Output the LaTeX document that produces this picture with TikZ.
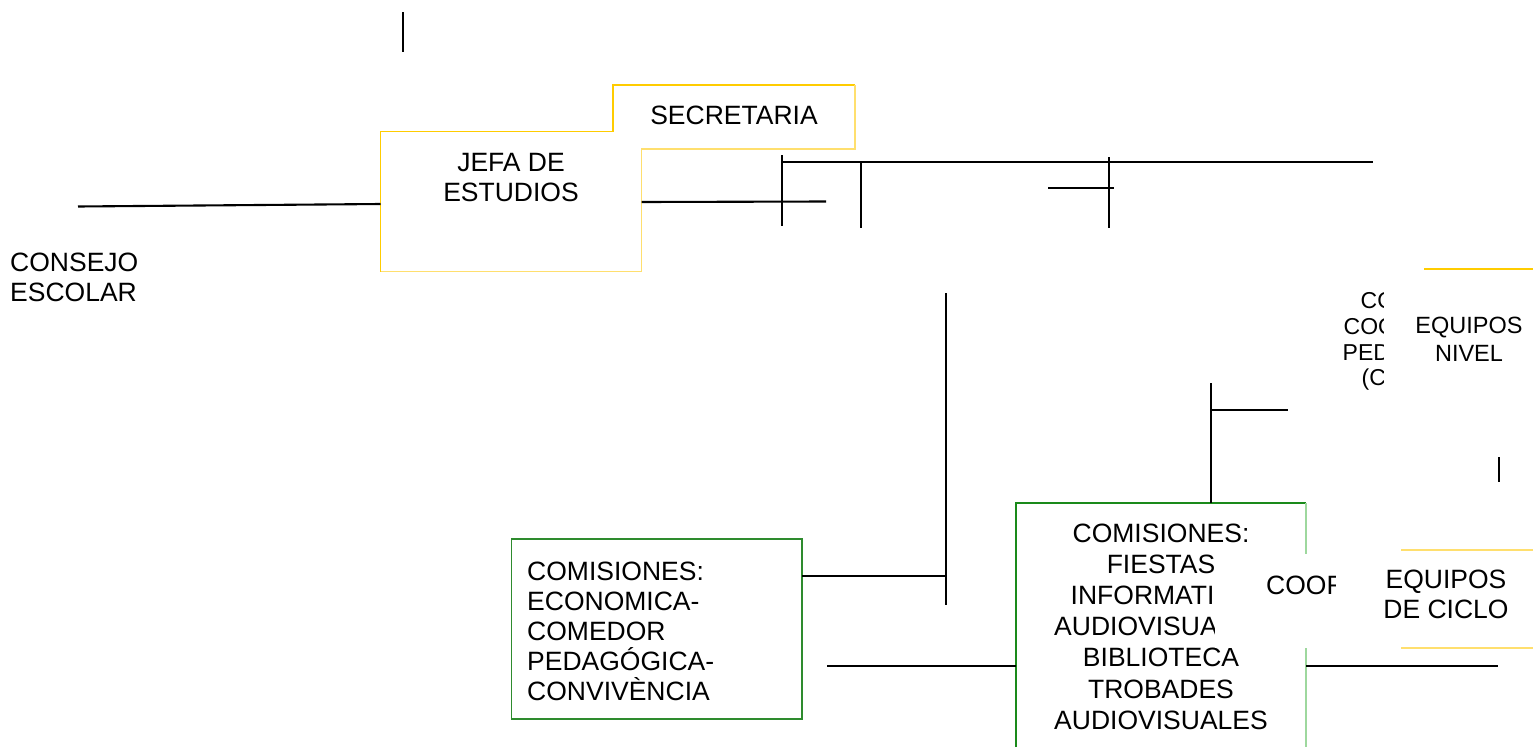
\documentclass[tikz,border=0pt]{standalone}
\usepackage{fontspec}
\setmainfont{Liberation Sans}
\definecolor{gold}{HTML}{FFCC00}
\definecolor{lightgold}{HTML}{FFDF6E}
\definecolor{dgreen}{HTML}{1A8A1A}
\definecolor{lgreen}{HTML}{9ED89E}
\definecolor{mgreen}{HTML}{2E8B2E}
\begin{document}
\begin{tikzpicture}[x=1pt,y=-1pt,
  conn/.style={line width=2.1pt, black},
  area/.style={inner sep=0pt, outer sep=0pt, minimum width=#1},
  txt/.style={inner sep=0pt, font=\fontsize{26.5}{30}\selectfont, align=center},
  txtsmall/.style={inner sep=0pt, font=\fontsize{23.5}{28}\selectfont, align=center},
  txttiny/.style={inner sep=0pt, font=\fontsize{23}{26}\selectfont, anchor=west},
  strongY/.style={draw=gold, line width=1.6pt},
  lightY/.style={draw=lightgold, line width=1.5pt},
  strongG/.style={draw=dgreen, line width=1.6pt},
  lightG/.style={draw=lgreen, line width=1.5pt},
  boxG/.style={draw=mgreen, line width=1.5pt}]
\useasboundingbox (0,0) rectangle (1533,747);

% invisible area nodes for boxes
\node[area=261pt, minimum height=140pt] (jefa) at (511,201.5) {};
\node[area=242pt, minimum height=64pt] (sec) at (734,117) {};
\node[area=290.5pt, minimum height=180pt] (comL) at (656.75,629) {};
\node[area=290pt, minimum height=244pt] (comR) at (1161,625) {};
\node[area=132pt, minimum height=98pt] (ciclo) at (1467,599) {};
\coordinate (nivelL) at (1424,269);
\coordinate (nivelR) at (1533,269);

% JEFA + SECRETARIA outline
\draw[strongY] (jefa.south west) -- (jefa.north west) -- (sec.west |- jefa.north) -- (sec.north west) -- (sec.north east);
\draw[lightY] (sec.north east) -- (sec.south east) -- (jefa.east |- sec.south) -- (jefa.south east) -- (jefa.south west);

% texts
\node[txt] (jefaT) at (511,177.2) {JEFA DE\\ESTUDIOS};
\node[txt] (secT) at (734,115) {SECRETARIA};
\node[txt, align=left, anchor=west] (consejo) at (10,277.5) {CONSEJO\\ESCOLAR};

% left comisiones box
\draw[boxG] (comL.south west) rectangle (comL.north east);
\node[txt, align=left, anchor=west] (comLT) at (527,631.5) {COMISIONES:\\ECONOMICA-\\COMEDOR\\PEDAGÓGICA-\\CONVIVÈNCIA};

% right comisiones box
\draw[strongG] (comR.south west) -- (comR.north west) -- (comR.north east);
\draw[lightG] (comR.north east) -- (comR.south east);
\node[txt, font=\fontsize{26.5}{31.2}\selectfont] (comRT) at (1161,626.5) {COMISIONES:\\FIESTAS\\INFORMATICA\\AUDIOVISUALES\\BIBLIOTECA\\TROBADES\\AUDIOVISUALES};
% masking region (overlapping shape)
\fill[white] (1215,554) rectangle (1336,647.5);
\begin{scope}
  \clip (1200,540) rectangle (1335,640);
  \node[txt, anchor=west] (coorT) at (1266,585) {COOR};
\end{scope}

% equipos de ciclo
\draw[strongY, draw=lightgold] (ciclo.north west) -- (ciclo.north east);
\draw[lightY] (ciclo.south west) -- (ciclo.south east);
\node[txt] (cicloT) at (1446,594) {EQUIPOS\\DE CICLO};

% CCP (clipped) and equipos nivel
\begin{scope}
  \clip (1330,280) rectangle (1383,400);
  \node[txttiny] (ccp1) at (1360.5,301) {CO};
  \node[txttiny] (ccp2) at (1343.5,327) {COO};
  \node[txttiny] (ccp3) at (1342.5,353) {PED};
  \node[txttiny] (ccp4) at (1361.5,380) {(CC};
\end{scope}
\draw[strongY] (nivelL) -- (nivelR);
\node[txtsmall] (nivelT) at (1469,339) {EQUIPOS\\NIVEL};

% connectors
\coordinate (t1) at (403,12);   \coordinate (t2) at (403,52);
\coordinate (ce1) at (78,206.5); \coordinate (ce2) at (jefa.west |- 0,204);
\coordinate (j1) at (jefa.east |- 0,202); \coordinate (j2) at (826,201.5);
\coordinate (v1a) at (782,155); \coordinate (v1b) at (782,226);
\coordinate (v2a) at (861,161); \coordinate (v2b) at (861,228);
\coordinate (la) at (782,162);  \coordinate (lb) at (1373,162);
\coordinate (v3a) at (1109,157); \coordinate (v3b) at (1109,228);
\coordinate (sa) at (1048,188); \coordinate (sb) at (1114,188);
\coordinate (v4a) at (946,293); \coordinate (v4b) at (946,605);
\coordinate (hL) at (comL.east |- 0,576); \coordinate (hLb) at (946,576);
\coordinate (h2a) at (827,666); \coordinate (h2b) at (comR.west |- 0,666);
\coordinate (h3a) at (comR.east |- 0,666); \coordinate (h3b) at (1498,666);
\coordinate (v5a) at (1211,383); \coordinate (v5b) at (1211,503);
\coordinate (h4b) at (1288,410); \coordinate (h4a) at (1211,410);
\coordinate (v6a) at (1499,457); \coordinate (v6b) at (1499,482);

\draw[conn] (t1) -- (t2);
\draw[conn] (ce1) -- (ce2);
\draw[conn] (j1) -- (j2);
\draw[conn] (v1a) -- (v1b);
\draw[conn] (v2a) -- (v2b);
\draw[conn] (la) -- (lb);
\draw[conn] (v3a) -- (v3b);
\draw[conn] (sa) -- (sb);
\draw[conn] (v4a) -- (v4b);
\draw[conn] (hL) -- (hLb);
\draw[conn] (h2a) -- (h2b);
\draw[conn] (h3a) -- (h3b);
\draw[conn] (v5a) -- (v5b);
\draw[conn] (h4a) -- (h4b);
\draw[conn] (v6a) -- (v6b);
\end{tikzpicture}
\end{document}
